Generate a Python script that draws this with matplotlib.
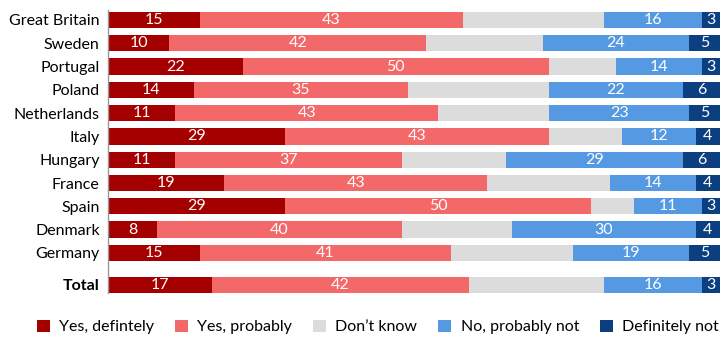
import matplotlib.pyplot as plt
from matplotlib.patches import Patch

countries = ["Great Britain", "Sweden", "Portugal", "Poland", "Netherlands", "Italy",
             "Hungary", "France", "Spain", "Denmark", "Germany", "Total"]
yes_definitely = [15, 10, 22, 14, 11, 29, 11, 19, 29, 8, 15, 17]
yes_probably = [43, 42, 50, 35, 43, 43, 37, 43, 50, 40, 41, 42]
dont_know = [23, 19, 11, 23, 18, 12, 17, 20, 7, 18, 20, 22]
no_probably = [16, 24, 14, 22, 23, 12, 29, 14, 11, 30, 19, 16]
definitely_not = [3, 5, 3, 6, 5, 4, 6, 4, 3, 4, 5, 3]

series_names = ["Yes, defintely", "Yes, probably", "Don\u2019t know", "No, probably not", "Definitely not"]
series = [yes_definitely, yes_probably, dont_know, no_probably, definitely_not]
colors = ["#a50000", "#f36868", "#dcdcdc", "#5599e2", "#0b3f80"]
show_labels = [True, True, False, True, True]

plt.rcParams['font.family'] = ['Lato', 'DejaVu Sans']

W, H = 723, 338
fig = plt.figure(figsize=(W / 100, H / 100), dpi=100)
ax = fig.add_axes([108 / W, 1 - 296 / H, 612 / W, 288 / H])

ypos = list(range(11)) + [11.37]
bar_h = 0.7

left = [0] * len(countries)
for vals, col, lab in zip(series, colors, show_labels):
    ax.barh(ypos, vals, left=left, height=bar_h, color=col, edgecolor='none')
    if lab:
        for y, l, v in zip(ypos, left, vals):
            ax.text(l + v / 2, y, str(v), ha='center', va='center', color='white', fontsize=11.5)
    left = [a + b for a, b in zip(left, vals)]

ax.set_xlim(0, 100)
ax.set_ylim(11.85, -0.515)
ax.set_yticks(ypos)
ax.set_yticklabels(countries, fontsize=11.5)
ax.get_yticklabels()[-1].set_fontweight('bold')
ax.tick_params(axis='y', length=0, pad=6)
ax.set_xticks([])
for s in ['top', 'right', 'bottom']:
    ax.spines[s].set_visible(False)
ax.spines['left'].set_color('#999999')
ax.spines['left'].set_linewidth(1)
ax.spines['left'].set_bounds(-0.45, 11.37 + bar_h / 2)

handles = [Patch(facecolor=c, edgecolor='none') for c in colors]
fig.legend(handles, series_names, loc='center', bbox_to_anchor=(378 / W, 1 - 327 / H),
           ncol=5, frameon=False, fontsize=11.5, handlelength=0.8, handleheight=0.8,
           handletextpad=0.6, columnspacing=1.3)

fig.savefig("out.png", dpi=100)
